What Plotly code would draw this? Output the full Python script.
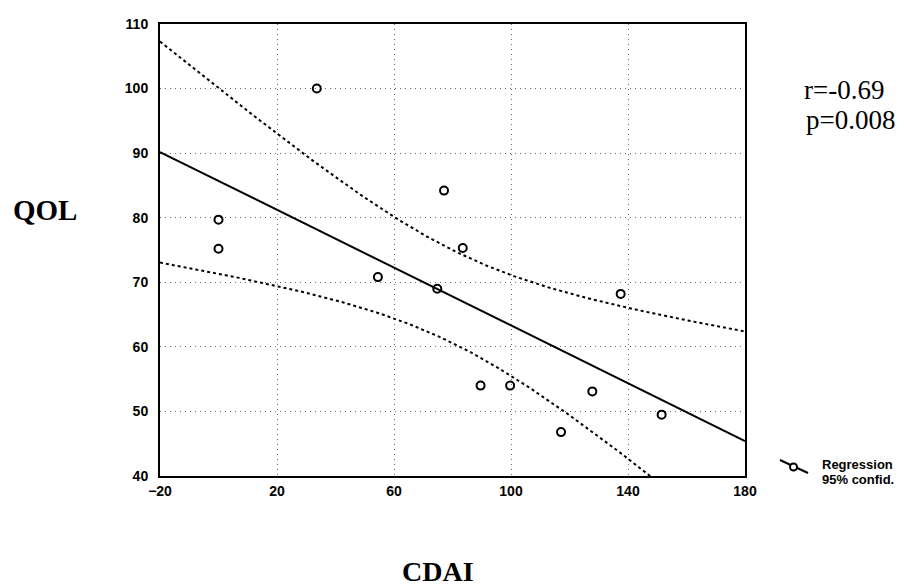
import numpy as np
import plotly.graph_objects as go

# CDAI score and quality-of-life score per patient
cdai = [33.6, 0.0, 0.0, 77.1, 83.5, 54.5, 74.8, 89.6, 99.7, 117.1, 127.8, 137.5, 151.5]
qol = [100.0, 79.7, 75.2, 84.2, 75.3, 70.8, 69.0, 54.0, 54.0, 46.8, 53.1, 68.2, 49.5]

x_ticks = [-20, 20, 60, 100, 140, 180]
y_ticks = [40, 50, 60, 70, 80, 90, 100, 110]
x_range = [-20, 180]
y_range = [40, 110]

# Least-squares fit with 95% confidence band for the mean
x = np.array(cdai)
y = np.array(qol)
n = len(x)
xbar, ybar = x.mean(), y.mean()
sxx = ((x - xbar) ** 2).sum()
slope = ((x - xbar) * (y - ybar)).sum() / sxx
intercept = ybar - slope * xbar
resid = y - (intercept + slope * x)
s = np.sqrt((resid ** 2).sum() / (n - 2))
t975 = 2.201  # t quantile, 11 degrees of freedom

xf = np.linspace(x_range[0], x_range[1], 201)
yf = intercept + slope * xf
half = t975 * s * np.sqrt(1.0 / n + (xf - xbar) ** 2 / sxx)

W, H = 911, 586
L, R, T, B = 160, 166, 24, 110
pw, ph = W - L - R, H - T - B


def px(v):
    return (v - L) / pw


def py(v):
    return (H - B - v) / ph


fig = go.Figure()
fig.add_trace(go.Scatter(x=xf, y=yf + half, mode="lines",
                         line=dict(color="black", width=2, dash="dot"), hoverinfo="skip"))
fig.add_trace(go.Scatter(x=xf, y=yf - half, mode="lines",
                         line=dict(color="black", width=2, dash="dot"), hoverinfo="skip"))
fig.add_trace(go.Scatter(x=xf, y=yf, mode="lines",
                         line=dict(color="black", width=2), hoverinfo="skip"))
fig.add_trace(go.Scatter(x=cdai, y=qol, mode="markers",
                         marker=dict(symbol="circle-open", size=8, color="black",
                                     line=dict(width=2, color="black"))))

tick_font = dict(family="Arial, Liberation Sans, sans-serif", size=14, color="black", weight="bold")
axis_common = dict(showline=True, linecolor="black", linewidth=2, mirror=True,
                   showgrid=True, gridcolor="#666", gridwidth=1, griddash="1px,4px",
                   zeroline=False, ticks="", tickfont=tick_font)

fig.update_xaxes(range=x_range, tickvals=x_ticks, ticklabelstandoff=1, **axis_common)
fig.update_yaxes(range=y_range, tickvals=y_ticks, ticklabelstandoff=7, **axis_common)

serif = "Times New Roman, Liberation Serif, serif"
sans = "Arial, Liberation Sans, sans-serif"
annotations = [
    dict(text="<b>QOL</b>", x=px(45), y=py(210), font=dict(family=serif, size=29, color="black"),
         xanchor="center", yanchor="middle"),
    dict(text="<b>CDAI</b>", x=px(438), y=py(571), font=dict(family=serif, size=28, color="black"),
         xanchor="center", yanchor="middle"),
    dict(text="r=-0.69", x=px(802), y=py(90), font=dict(family=serif, size=27, color="black"),
         xanchor="left", yanchor="middle"),
    dict(text="p=0.008", x=px(804), y=py(120), font=dict(family=serif, size=27, color="black"),
         xanchor="left", yanchor="middle"),
    dict(text="<b>Regression</b>", x=px(820), y=py(464), font=dict(family=sans, size=13, color="black"),
         xanchor="left", yanchor="middle"),
    dict(text="<b>95% confid.</b>", x=px(820), y=py(479), font=dict(family=sans, size=13, color="black"),
         xanchor="left", yanchor="middle"),
]
for a in annotations:
    a.update(xref="paper", yref="paper", showarrow=False)

# Legend key: slanted line through an open circle
shapes = [
    dict(type="line", xref="paper", yref="paper", x0=px(780), y0=py(460), x1=px(808), y1=py(473),
         line=dict(color="black", width=2)),
    dict(type="circle", xref="paper", yref="paper", x0=px(790), y0=py(463.5), x1=px(797), y1=py(470.5),
         fillcolor="white", line=dict(color="black", width=2)),
]

fig.update_layout(width=W, height=H, autosize=False,
                  margin=dict(l=L, r=R, t=T, b=B),
                  paper_bgcolor="white", plot_bgcolor="white",
                  showlegend=False, annotations=annotations, shapes=shapes)

fig.write_html("out.html")
